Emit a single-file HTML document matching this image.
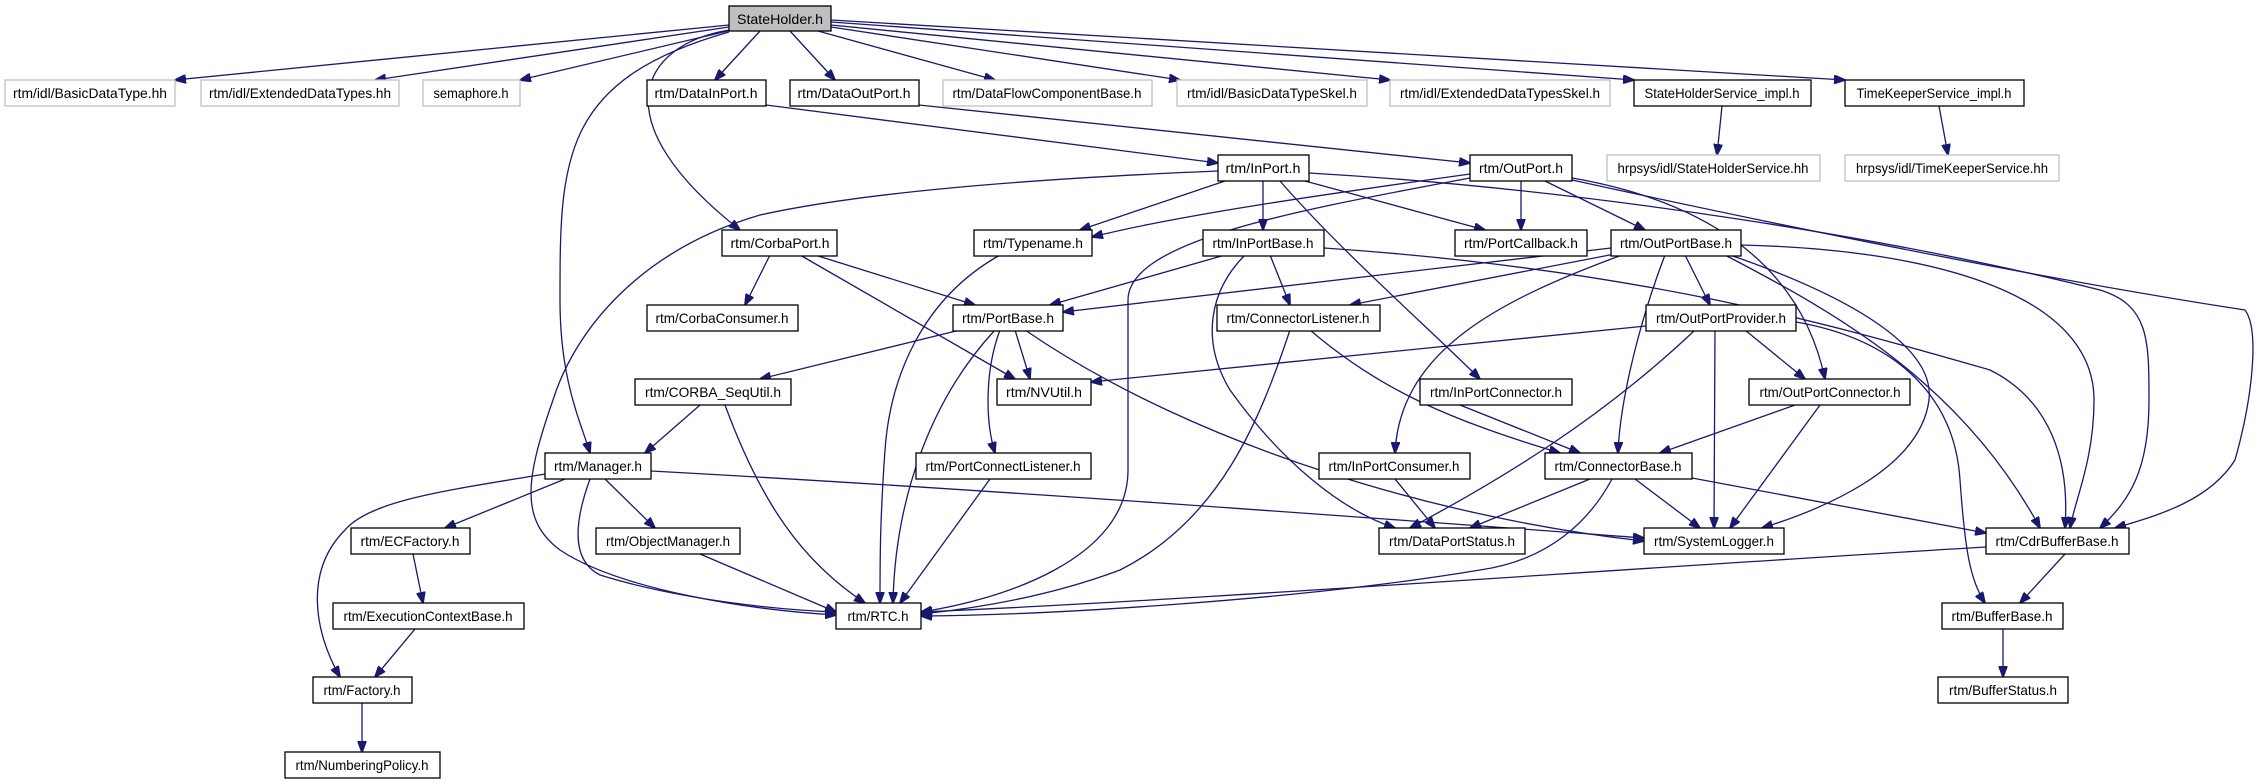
<!DOCTYPE html>
<html><head><meta charset="utf-8"><style>
html,body{margin:0;padding:0;background:#fff;}
svg{display:block;}
text{font-family:"Liberation Sans",sans-serif;font-size:14px;fill:#000;}
.e{fill:none;stroke:#191970;stroke-width:1.3;}
rect{fill:#fff;stroke:#000;stroke-width:1.3;}
rect.g{stroke:#bfbfbf;}
</style></head><body>
<svg width="2257" height="784" viewBox="0 0 2257 784" xmlns="http://www.w3.org/2000/svg">
<defs><marker id="a" markerWidth="12" markerHeight="9" refX="11" refY="4.5" orient="auto" markerUnits="userSpaceOnUse"><path d="M0,0 L12,4.5 L0,9 z" fill="#191970" stroke="#191970"/></marker></defs>
<g class="e" marker-end="url(#a)">
<!-- StateHolder -->
<path d="M729,25 L175,80"/>
<path d="M729,27 L375,80"/>
<path d="M732,30 L520,80"/>
<path d="M760,31 L715,80"/>
<path d="M790,31 L835,80"/>
<path d="M818,31 L995,80"/>
<path d="M831,27 L1180,80"/>
<path d="M831,25 L1390,80"/>
<path d="M831,22 L1634,80"/>
<path d="M831,20 L1845,80"/>
<path d="M729,30 C640,45 600,120 740,230"/>
<path d="M729,32 C560,80 560,160 560,300 C560,380 580,420 590,453"/>
<!-- DataIn/Out -->
<path d="M766,105 L1218,163"/>
<path d="M919,105 L1470,163"/>
<path d="M1722,106 L1717,155"/>
<path d="M1939,106 L1948,155"/>
<!-- InPort -->
<path d="M1218,171 C1000,180 850,195 760,215 C640,250 575,330 553,400 C525,480 520,520 560,550 C620,590 750,610 836,615"/>
<path d="M1225,181 L1080,230"/>
<path d="M1263,181 L1263,230"/>
<path d="M1305,181 L1485,230"/>
<path d="M1280,181 C1340,250 1420,320 1480,379"/>
<path d="M1309,173 C1600,190 1900,240 2100,290 C2149,305 2149,340 2149,400 C2149,470 2130,500 2100,528"/>
<!-- OutPort -->
<path d="M1521,181 L1521,230"/>
<path d="M1545,181 L1645,230"/>
<path d="M1470,174 C1320,195 1180,215 1092,237"/>
<path d="M1470,178 C1300,210 1128,240 1128,300 L1128,470 C1128,560 1000,600 921,612"/>
<path d="M1572,178 C1700,200 1800,260 1825,379"/>
<path d="M1572,180 C1800,230 2050,280 2245,310 C2260,330 2252,400 2235,460 C2210,500 2160,515 2115,528"/>
<!-- InPortBase -->
<path d="M1225,255 L1050,305"/>
<path d="M1270,255 L1290,305"/>
<path d="M1245,255 C1210,290 1200,340 1230,390 C1280,460 1340,510 1395,528"/>
<path d="M1324,248 C1650,270 1850,330 1990,370 C2050,400 2070,460 2065,528"/>
<!-- CorbaPort -->
<path d="M770,255 L745,305"/>
<path d="M815,255 L975,305"/>
<path d="M800,255 L1015,379"/>
<!-- Typename -->
<path d="M1000,255 C920,300 890,380 885,450 C880,520 880,560 880,603"/>
<!-- PortBase -->
<path d="M960,330 L760,379"/>
<path d="M1015,330 L1030,379"/>
<path d="M995,330 C930,400 895,500 893,603"/>
<path d="M1000,330 C985,370 985,420 995,453"/>
<path d="M1025,330 C1200,450 1450,520 1644,541"/>
<!-- CORBA_SeqUtil -->
<path d="M700,405 L645,453"/>
<path d="M725,405 C760,500 800,560 865,603"/>
<!-- Manager -->
<path d="M565,479 L445,528"/>
<path d="M605,479 L655,528"/>
<path d="M545,474 C450,490 370,500 345,530 C305,570 313,630 340,677"/>
<path d="M590,479 C575,520 570,560 600,575 C680,600 780,610 836,612"/>
<path d="M651,471 C1000,490 1400,520 1644,538"/>
<!-- Factory chain -->
<path d="M413,554 L423,603"/>
<path d="M415,629 L375,677"/>
<path d="M362,703 L362,752"/>
<path d="M700,554 L836,612"/>
<path d="M990,479 L900,603"/>
<!-- ConnectorListener -->
<path d="M1290,330 C1260,420 1220,520 1120,570 C1040,600 960,610 921,614"/>
<path d="M1310,330 C1380,390 1450,420 1560,453"/>
<path d="M1460,405 L1580,453"/>
<!-- OutPortBase -->
<path d="M1611,248 L1063,312"/>
<path d="M1615,254 L1350,305"/>
<path d="M1622,255 C1500,300 1400,350 1395,453"/>
<path d="M1685,255 L1710,305"/>
<path d="M1665,255 C1640,320 1620,400 1618,453"/>
<path d="M1730,255 C1860,300 1935,350 1929,400 C1920,470 1820,510 1762,528"/>
<path d="M1741,245 C1950,250 2094,300 2094,400 C2094,460 2075,500 2070,528"/>
<path d="M1725,255 C1830,310 1960,380 2040,528"/>
<!-- OutPortProvider -->
<path d="M1646,326 L1091,382"/>
<path d="M1695,330 C1600,420 1500,480 1410,528"/>
<path d="M1715,330 L1714,528"/>
<path d="M1745,330 L1805,379"/>
<path d="M1796,322 C1900,340 1955,400 1960,480 C1965,550 1970,580 1985,603"/>
<!-- OutPortConnector -->
<path d="M1795,405 L1660,453"/>
<path d="M1820,405 L1730,528"/>
<!-- misc -->
<path d="M1395,479 L1435,528"/>
<path d="M1590,479 L1470,528"/>
<path d="M1635,479 L1700,528"/>
<path d="M1692,478 L1986,533"/>
<path d="M1612,479 C1590,520 1550,560 1480,570 C1300,600 1050,615 921,616"/>
<path d="M2065,554 L2020,603"/>
<path d="M1986,547 C1600,570 1200,600 921,612"/>
<path d="M2003,629 L2003,677"/>
</g>
<!-- nodes -->
<rect x="729" y="6" width="102" height="25" style="fill:#bfbfbf"/><text x="780" y="24" text-anchor="middle" textLength="86" lengthAdjust="spacingAndGlyphs">StateHolder.h</text>
<rect class="g" x="5" y="80" width="170" height="26"/><text x="90" y="98" text-anchor="middle" textLength="154" lengthAdjust="spacingAndGlyphs">rtm/idl/BasicDataType.hh</text>
<rect class="g" x="201" y="80" width="198" height="26"/><text x="300" y="98" text-anchor="middle" textLength="182" lengthAdjust="spacingAndGlyphs">rtm/idl/ExtendedDataTypes.hh</text>
<rect class="g" x="423" y="80" width="97" height="26"/><text x="471" y="98" text-anchor="middle" textLength="75" lengthAdjust="spacingAndGlyphs">semaphore.h</text>
<rect x="647" y="80" width="119" height="26"/><text x="706" y="98" text-anchor="middle" textLength="103" lengthAdjust="spacingAndGlyphs">rtm/DataInPort.h</text>
<rect x="790" y="80" width="129" height="26"/><text x="854" y="98" text-anchor="middle" textLength="113" lengthAdjust="spacingAndGlyphs">rtm/DataOutPort.h</text>
<rect class="g" x="943" y="80" width="209" height="26"/><text x="1047" y="98" text-anchor="middle" textLength="189" lengthAdjust="spacingAndGlyphs">rtm/DataFlowComponentBase.h</text>
<rect class="g" x="1177" y="80" width="190" height="26"/><text x="1272" y="98" text-anchor="middle" textLength="170" lengthAdjust="spacingAndGlyphs">rtm/idl/BasicDataTypeSkel.h</text>
<rect class="g" x="1390" y="80" width="220" height="26"/><text x="1500" y="98" text-anchor="middle" textLength="200" lengthAdjust="spacingAndGlyphs">rtm/idl/ExtendedDataTypesSkel.h</text>
<rect x="1634" y="80" width="177" height="26"/><text x="1722" y="98" text-anchor="middle" textLength="155" lengthAdjust="spacingAndGlyphs">StateHolderService_impl.h</text>
<rect x="1845" y="80" width="179" height="26"/><text x="1934" y="98" text-anchor="middle" textLength="155" lengthAdjust="spacingAndGlyphs">TimeKeeperService_impl.h</text>
<rect x="1218" y="155" width="91" height="26"/><text x="1263" y="173" text-anchor="middle" textLength="75" lengthAdjust="spacingAndGlyphs">rtm/InPort.h</text>
<rect x="1470" y="155" width="102" height="26"/><text x="1521" y="173" text-anchor="middle" textLength="84" lengthAdjust="spacingAndGlyphs">rtm/OutPort.h</text>
<rect class="g" x="1607" y="155" width="213" height="26"/><text x="1713" y="173" text-anchor="middle" textLength="191" lengthAdjust="spacingAndGlyphs">hrpsys/idl/StateHolderService.hh</text>
<rect class="g" x="1845" y="155" width="214" height="26"/><text x="1952" y="173" text-anchor="middle" textLength="192" lengthAdjust="spacingAndGlyphs">hrpsys/idl/TimeKeeperService.hh</text>
<rect x="722" y="230" width="115" height="26"/><text x="780" y="248" text-anchor="middle" textLength="99" lengthAdjust="spacingAndGlyphs">rtm/CorbaPort.h</text>
<rect x="974" y="230" width="118" height="26"/><text x="1033" y="248" text-anchor="middle" textLength="100" lengthAdjust="spacingAndGlyphs">rtm/Typename.h</text>
<rect x="1203" y="230" width="121" height="26"/><text x="1263" y="248" text-anchor="middle" textLength="101" lengthAdjust="spacingAndGlyphs">rtm/InPortBase.h</text>
<rect x="1455" y="230" width="132" height="26"/><text x="1521" y="248" text-anchor="middle" textLength="114" lengthAdjust="spacingAndGlyphs">rtm/PortCallback.h</text>
<rect x="1611" y="230" width="130" height="26"/><text x="1676" y="248" text-anchor="middle" textLength="112" lengthAdjust="spacingAndGlyphs">rtm/OutPortBase.h</text>
<rect x="647" y="305" width="151" height="26"/><text x="722" y="323" text-anchor="middle" textLength="133" lengthAdjust="spacingAndGlyphs">rtm/CorbaConsumer.h</text>
<rect x="953" y="305" width="110" height="26"/><text x="1008" y="323" text-anchor="middle" textLength="92" lengthAdjust="spacingAndGlyphs">rtm/PortBase.h</text>
<rect x="1217" y="305" width="163" height="26"/><text x="1298" y="323" text-anchor="middle" textLength="143" lengthAdjust="spacingAndGlyphs">rtm/ConnectorListener.h</text>
<rect x="1646" y="305" width="150" height="26"/><text x="1721" y="323" text-anchor="middle" textLength="130" lengthAdjust="spacingAndGlyphs">rtm/OutPortProvider.h</text>
<rect x="635" y="379" width="156" height="26"/><text x="713" y="397" text-anchor="middle" textLength="136" lengthAdjust="spacingAndGlyphs">rtm/CORBA_SeqUtil.h</text>
<rect x="997" y="379" width="94" height="26"/><text x="1044" y="397" text-anchor="middle" textLength="76" lengthAdjust="spacingAndGlyphs">rtm/NVUtil.h</text>
<rect x="1420" y="379" width="152" height="26"/><text x="1496" y="397" text-anchor="middle" textLength="132" lengthAdjust="spacingAndGlyphs">rtm/InPortConnector.h</text>
<rect x="1749" y="379" width="161" height="26"/><text x="1830" y="397" text-anchor="middle" textLength="141" lengthAdjust="spacingAndGlyphs">rtm/OutPortConnector.h</text>
<rect x="545" y="453" width="106" height="26"/><text x="598" y="471" text-anchor="middle" textLength="88" lengthAdjust="spacingAndGlyphs">rtm/Manager.h</text>
<rect x="916" y="453" width="175" height="26"/><text x="1003" y="471" text-anchor="middle" textLength="155" lengthAdjust="spacingAndGlyphs">rtm/PortConnectListener.h</text>
<rect x="1319" y="453" width="151" height="26"/><text x="1394" y="471" text-anchor="middle" textLength="131" lengthAdjust="spacingAndGlyphs">rtm/InPortConsumer.h</text>
<rect x="1545" y="453" width="147" height="26"/><text x="1618" y="471" text-anchor="middle" textLength="127" lengthAdjust="spacingAndGlyphs">rtm/ConnectorBase.h</text>
<rect x="351" y="528" width="119" height="26"/><text x="410" y="546" text-anchor="middle" textLength="99" lengthAdjust="spacingAndGlyphs">rtm/ECFactory.h</text>
<rect x="596" y="528" width="144" height="26"/><text x="668" y="546" text-anchor="middle" textLength="124" lengthAdjust="spacingAndGlyphs">rtm/ObjectManager.h</text>
<rect x="1379" y="528" width="146" height="26"/><text x="1452" y="546" text-anchor="middle" textLength="126" lengthAdjust="spacingAndGlyphs">rtm/DataPortStatus.h</text>
<rect x="1644" y="528" width="140" height="26"/><text x="1714" y="546" text-anchor="middle" textLength="120" lengthAdjust="spacingAndGlyphs">rtm/SystemLogger.h</text>
<rect x="1986" y="528" width="143" height="26"/><text x="2057" y="546" text-anchor="middle" textLength="123" lengthAdjust="spacingAndGlyphs">rtm/CdrBufferBase.h</text>
<rect x="333" y="603" width="191" height="26"/><text x="428" y="621" text-anchor="middle" textLength="169" lengthAdjust="spacingAndGlyphs">rtm/ExecutionContextBase.h</text>
<rect x="836" y="603" width="85" height="26"/><text x="878" y="621" text-anchor="middle" textLength="61" lengthAdjust="spacingAndGlyphs">rtm/RTC.h</text>
<rect x="1942" y="603" width="121" height="26"/><text x="2002" y="621" text-anchor="middle" textLength="101" lengthAdjust="spacingAndGlyphs">rtm/BufferBase.h</text>
<rect x="313" y="677" width="99" height="26"/><text x="362" y="695" text-anchor="middle" textLength="77" lengthAdjust="spacingAndGlyphs">rtm/Factory.h</text>
<rect x="1938" y="677" width="130" height="26"/><text x="2003" y="695" text-anchor="middle" textLength="108" lengthAdjust="spacingAndGlyphs">rtm/BufferStatus.h</text>
<rect x="285" y="752" width="155" height="26"/><text x="362" y="770" text-anchor="middle" textLength="133" lengthAdjust="spacingAndGlyphs">rtm/NumberingPolicy.h</text>
</svg>
</body></html>
